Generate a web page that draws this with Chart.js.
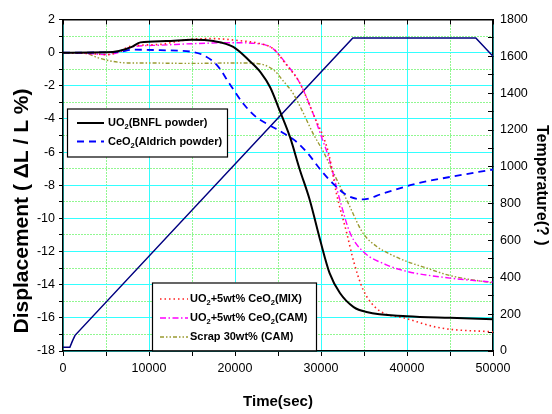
<!DOCTYPE html>
<html>
<head>
<meta charset="utf-8">
<script src="https://cdn.jsdelivr.net/npm/chart.js@4.4.1/dist/chart.umd.min.js"></script>
<style>
  html, body { margin: 0; padding: 0; background: #fff; }
  #wrap { width: 552px; height: 414px; }
</style>
</head>
<body>
<div id="wrap"><canvas id="chart" width="552" height="414"></canvas></div>
<script>
// ---- data (time in sec, displacement in %, temperature in C) ----
const UO2_TIME  = [0, 5000, 6500, 8000, 9000, 12000, 15000, 17500, 19800, 21700, 23000, 24100, 25200, 26400, 27500, 28700, 29900, 31000, 32200, 33800, 35300, 40000, 45000, 50000];
const UO2_DISP  = [0, 0.02, 0.1, 0.35, 0.62, 0.7, 0.78, 0.7, 0.35, -0.5, -1.2, -2.1, -3.5, -5.1, -7.0, -8.9, -11.3, -13.3, -14.5, -15.35, -15.65, -15.9, -16.0, -16.08];

const CEO2_TIME = [0, 5000, 6600, 8100, 11300, 15000, 16300, 17900, 19400, 21000, 22500, 24100, 25600, 27200, 28500, 30000, 31400, 33000, 34900, 37200, 41100, 45000, 50000];
const CEO2_DISP = [0, 0.02, 0.05, 0.18, 0.15, 0.05, -0.15, -0.75, -1.9, -3.1, -3.9, -4.4, -4.85, -5.4, -6.1, -7.1, -7.9, -8.6, -8.85, -8.5, -7.9, -7.5, -7.05];

const MIX_TIME  = [0, 3000, 5100, 6500, 7800, 11300, 14400, 17100, 20600, 22900, 24400, 26000, 27500, 29100, 30900, 31800, 33000, 33800, 34900, 36500, 40000, 43800, 50000];
const MIX_DISP  = [0, -0.05, -0.12, 0.05, 0.38, 0.5, 0.78, 0.85, 0.72, 0.55, 0.25, -0.75, -1.8, -3.7, -6.1, -8.5, -10.9, -12.6, -14.3, -15.45, -16.05, -16.6, -16.85];

const CAM_TIME  = [0, 3000, 5100, 6500, 8000, 11300, 15000, 20000, 22500, 24400, 26000, 27500, 29100, 30000, 31000, 32200, 33400, 34900, 37600, 40000, 45000, 50000];
const CAM_DISP  = [0, -0.05, -0.12, 0.02, 0.35, 0.45, 0.54, 0.6, 0.55, 0.25, -0.7, -1.8, -3.7, -5.0, -6.5, -8.9, -10.9, -12.0, -12.8, -13.2, -13.6, -13.85];

const SCRAP_TIME = [0, 2500, 4000, 5500, 7500, 9000, 15000, 20000, 22500, 24500, 25600, 26800, 27900, 29100, 30300, 31500, 33000, 34900, 36500, 38000, 40000, 42300, 45000, 50000];
const SCRAP_DISP = [0, -0.02, -0.3, -0.5, -0.62, -0.62, -0.65, -0.62, -0.65, -1.05, -1.7, -2.5, -3.6, -4.9, -6.0, -7.3, -8.9, -10.9, -11.7, -12.15, -12.6, -13.0, -13.45, -13.9];

const TEMP_TIME = [0, 800, 1100, 1400, 33700, 48000, 50000];
const TEMP_VAL  = [20, 20, 55, 85, 1700, 1700, 1600];

const LABELS = [
    "UO₂(BNFL powder)",
    "CeO₂(Aldrich powder)",
    "UO₂+5wt% CeO₂(MIX)",
    "UO₂+5wt% CeO₂(CAM)",
    "Scrap 30wt% (CAM)"
];

// ---- styling ----
const CYAN = "#33ffff";
const GREEN = "#22ee22";
const FONT = '"Liberation Sans", Arial, sans-serif';

const pairs = (t, v) => t.map((x, i) => ({ x, y: v[i] }));

const curve = (label, t, v, color, width, dash) => ({
    label,
    data: pairs(t, v),
    borderColor: color,
    backgroundColor: color,
    borderWidth: width,
    borderDash: dash,
    pointRadius: 0,
    cubicInterpolationMode: "monotone",
    yAxisID: "y"
});

const datasets = [
    curve(LABELS[0], UO2_TIME, UO2_DISP, "#000000", 2, []),
    curve(LABELS[1], CEO2_TIME, CEO2_DISP, "#0000ff", 1.8, [7, 5]),
    curve(LABELS[2], MIX_TIME, MIX_DISP, "#ff2020", 1.6, [1.5, 3]),
    curve(LABELS[3], CAM_TIME, CAM_DISP, "#ff00ff", 1.4, [6, 2.5, 1.5, 2.5]),
    curve(LABELS[4], SCRAP_TIME, SCRAP_DISP, "#9a9a30", 1.4, [4, 2, 1.5, 2, 1.5, 2]),
    {
        label: "Temperature",
        data: pairs(TEMP_TIME, TEMP_VAL),
        borderColor: "#000080",
        borderWidth: 1.5,
        pointRadius: 0,
        tension: 0,
        yAxisID: "y2"
    }
];

// legend boxes, placed relative to the plot area
const LEGEND_BOXES = [
    { sets: [0, 1], dx: 4, dy: 89, w: 160, h: 48, row0: 14.5, gap: 18.5, lineX: 10, lineLen: 27, textX: 41 },
    { sets: [2, 3, 4], dx: 89, dy: 263, w: 164, h: 68, row0: 16.5, gap: 19, lineX: 8, lineLen: 28, textX: 38 }
];

function drawRich(ctx, text, x, y, size) {
    const parts = text.split("₂");
    parts.forEach((p, i) => {
        ctx.font = `bold ${size}px ${FONT}`;
        ctx.fillText(p, x, y);
        x += ctx.measureText(p).width;
        if (i < parts.length - 1) {
            ctx.font = `bold ${size * 0.68}px ${FONT}`;
            ctx.fillText("2", x, y + 4);
            x += ctx.measureText("2").width;
        }
    });
}

const boxLegend = {
    id: "boxLegend",
    afterDatasetsDraw(chart) {
        const { ctx, chartArea } = chart;
        ctx.save();
        LEGEND_BOXES.forEach(b => {
            const x = chartArea.left + b.dx;
            const y = chartArea.top + b.dy;
            ctx.fillStyle = "#fff";
            ctx.fillRect(x, y, b.w, b.h);
            ctx.strokeStyle = "#000";
            ctx.lineWidth = 1.2;
            ctx.setLineDash([]);
            ctx.strokeRect(x + 0.5, y + 0.5, b.w, b.h);
            b.sets.forEach((di, r) => {
                const ds = chart.data.datasets[di];
                const ry = y + b.row0 + r * b.gap;
                ctx.strokeStyle = ds.borderColor;
                ctx.lineWidth = ds.borderWidth;
                ctx.setLineDash(ds.borderDash || []);
                ctx.beginPath();
                ctx.moveTo(x + b.lineX, ry);
                ctx.lineTo(x + b.lineX + b.lineLen, ry);
                ctx.stroke();
                ctx.setLineDash([]);
                ctx.fillStyle = "#000";
                ctx.textBaseline = "middle";
                ctx.textAlign = "left";
                drawRich(ctx, ds.label, x + b.textX, ry, 11);
            });
        });
        ctx.restore();
    }
};

Chart.defaults.font.family = FONT;
Chart.defaults.color = "#000";

new Chart(document.getElementById("chart"), {
    type: "line",
    data: { datasets },
    plugins: [boxLegend],
    options: {
        responsive: false,
        animation: false,
        layout: { padding: { top: 17, left: 0, right: 0, bottom: 0 } },
        plugins: { legend: { display: false }, tooltip: { enabled: false } },
        scales: {
            x: {
                type: "linear",
                position: "bottom",
                min: 0,
                max: 50000,
                afterFit: s => { s.height = 63; },
                ticks: {
                    stepSize: 5000,
                    autoSkip: false,
                    maxRotation: 0,
                    padding: 5,
                    font: { size: 12.5 },
                    callback: v => (v % 10000 === 0 ? String(v) : "")
                },
                grid: {
                    color: c => (c.tick && c.tick.value % 10000 === 0 ? CYAN : GREEN),
                    lineWidth: 1,
                    tickColor: "#000",
                    tickLength: 5
                },
                border: {
                    color: "#000",
                    width: 1.5,
                    dash: c => (c.tick && c.tick.value % 10000 !== 0 ? [1, 2] : [])
                },
                title: {
                    display: true,
                    text: "Time(sec)",
                    font: { size: 15, weight: "bold", lineHeight: 1 },
                    padding: { top: 0, bottom: 5 }
                }
            },
            x2: {
                type: "linear",
                position: "top",
                min: 0,
                max: 50000,
                afterFit: s => { s.height = 0; },
                ticks: { display: false, stepSize: 5000 },
                grid: { drawOnChartArea: false, tickColor: "#000", tickLength: -5 },
                border: { color: "#000", width: 1.5 }
            },
            y: {
                position: "left",
                min: -18,
                max: 2,
                afterFit: s => { s.width = 63; },
                ticks: {
                    stepSize: 1,
                    autoSkip: false,
                    padding: 4,
                    font: { size: 12.5 },
                    callback: v => (v % 2 === 0 ? String(v) : "")
                },
                grid: {
                    color: c => (c.tick && c.tick.value % 2 === 0 ? CYAN : GREEN),
                    lineWidth: 1,
                    tickColor: "#000",
                    tickLength: 4
                },
                border: {
                    color: "#000",
                    width: 1.5,
                    dash: c => (c.tick && c.tick.value % 2 !== 0 ? [1, 2] : [])
                },
                title: {
                    display: true,
                    align: "start",
                    text: "\u00a0\u00a0\u00a0Displacement ( ΔL / L %)",
                    font: { size: 21, weight: "bold", lineHeight: 1 },
                    padding: { top: 12, bottom: 0 }
                }
            },
            y2: {
                position: "right",
                min: 0,
                max: 1800,
                afterFit: s => { s.width = 59; },
                ticks: {
                    stepSize: 100,
                    autoSkip: false,
                    padding: 12,
                    font: { size: 12.5 },
                    callback: v => (v % 200 === 0 ? String(v) : "")
                },
                grid: { drawOnChartArea: false, tickColor: "#000", tickLength: -5 },
                border: { color: "#000", width: 1.5 },
                title: {
                    display: true,
                    text: "Temperature(? )",
                    font: { size: 16, weight: "bold", lineHeight: 1 },
                    padding: { top: 3, bottom: 0 }
                }
            }
        }
    }
});
</script>
</body>
</html>
